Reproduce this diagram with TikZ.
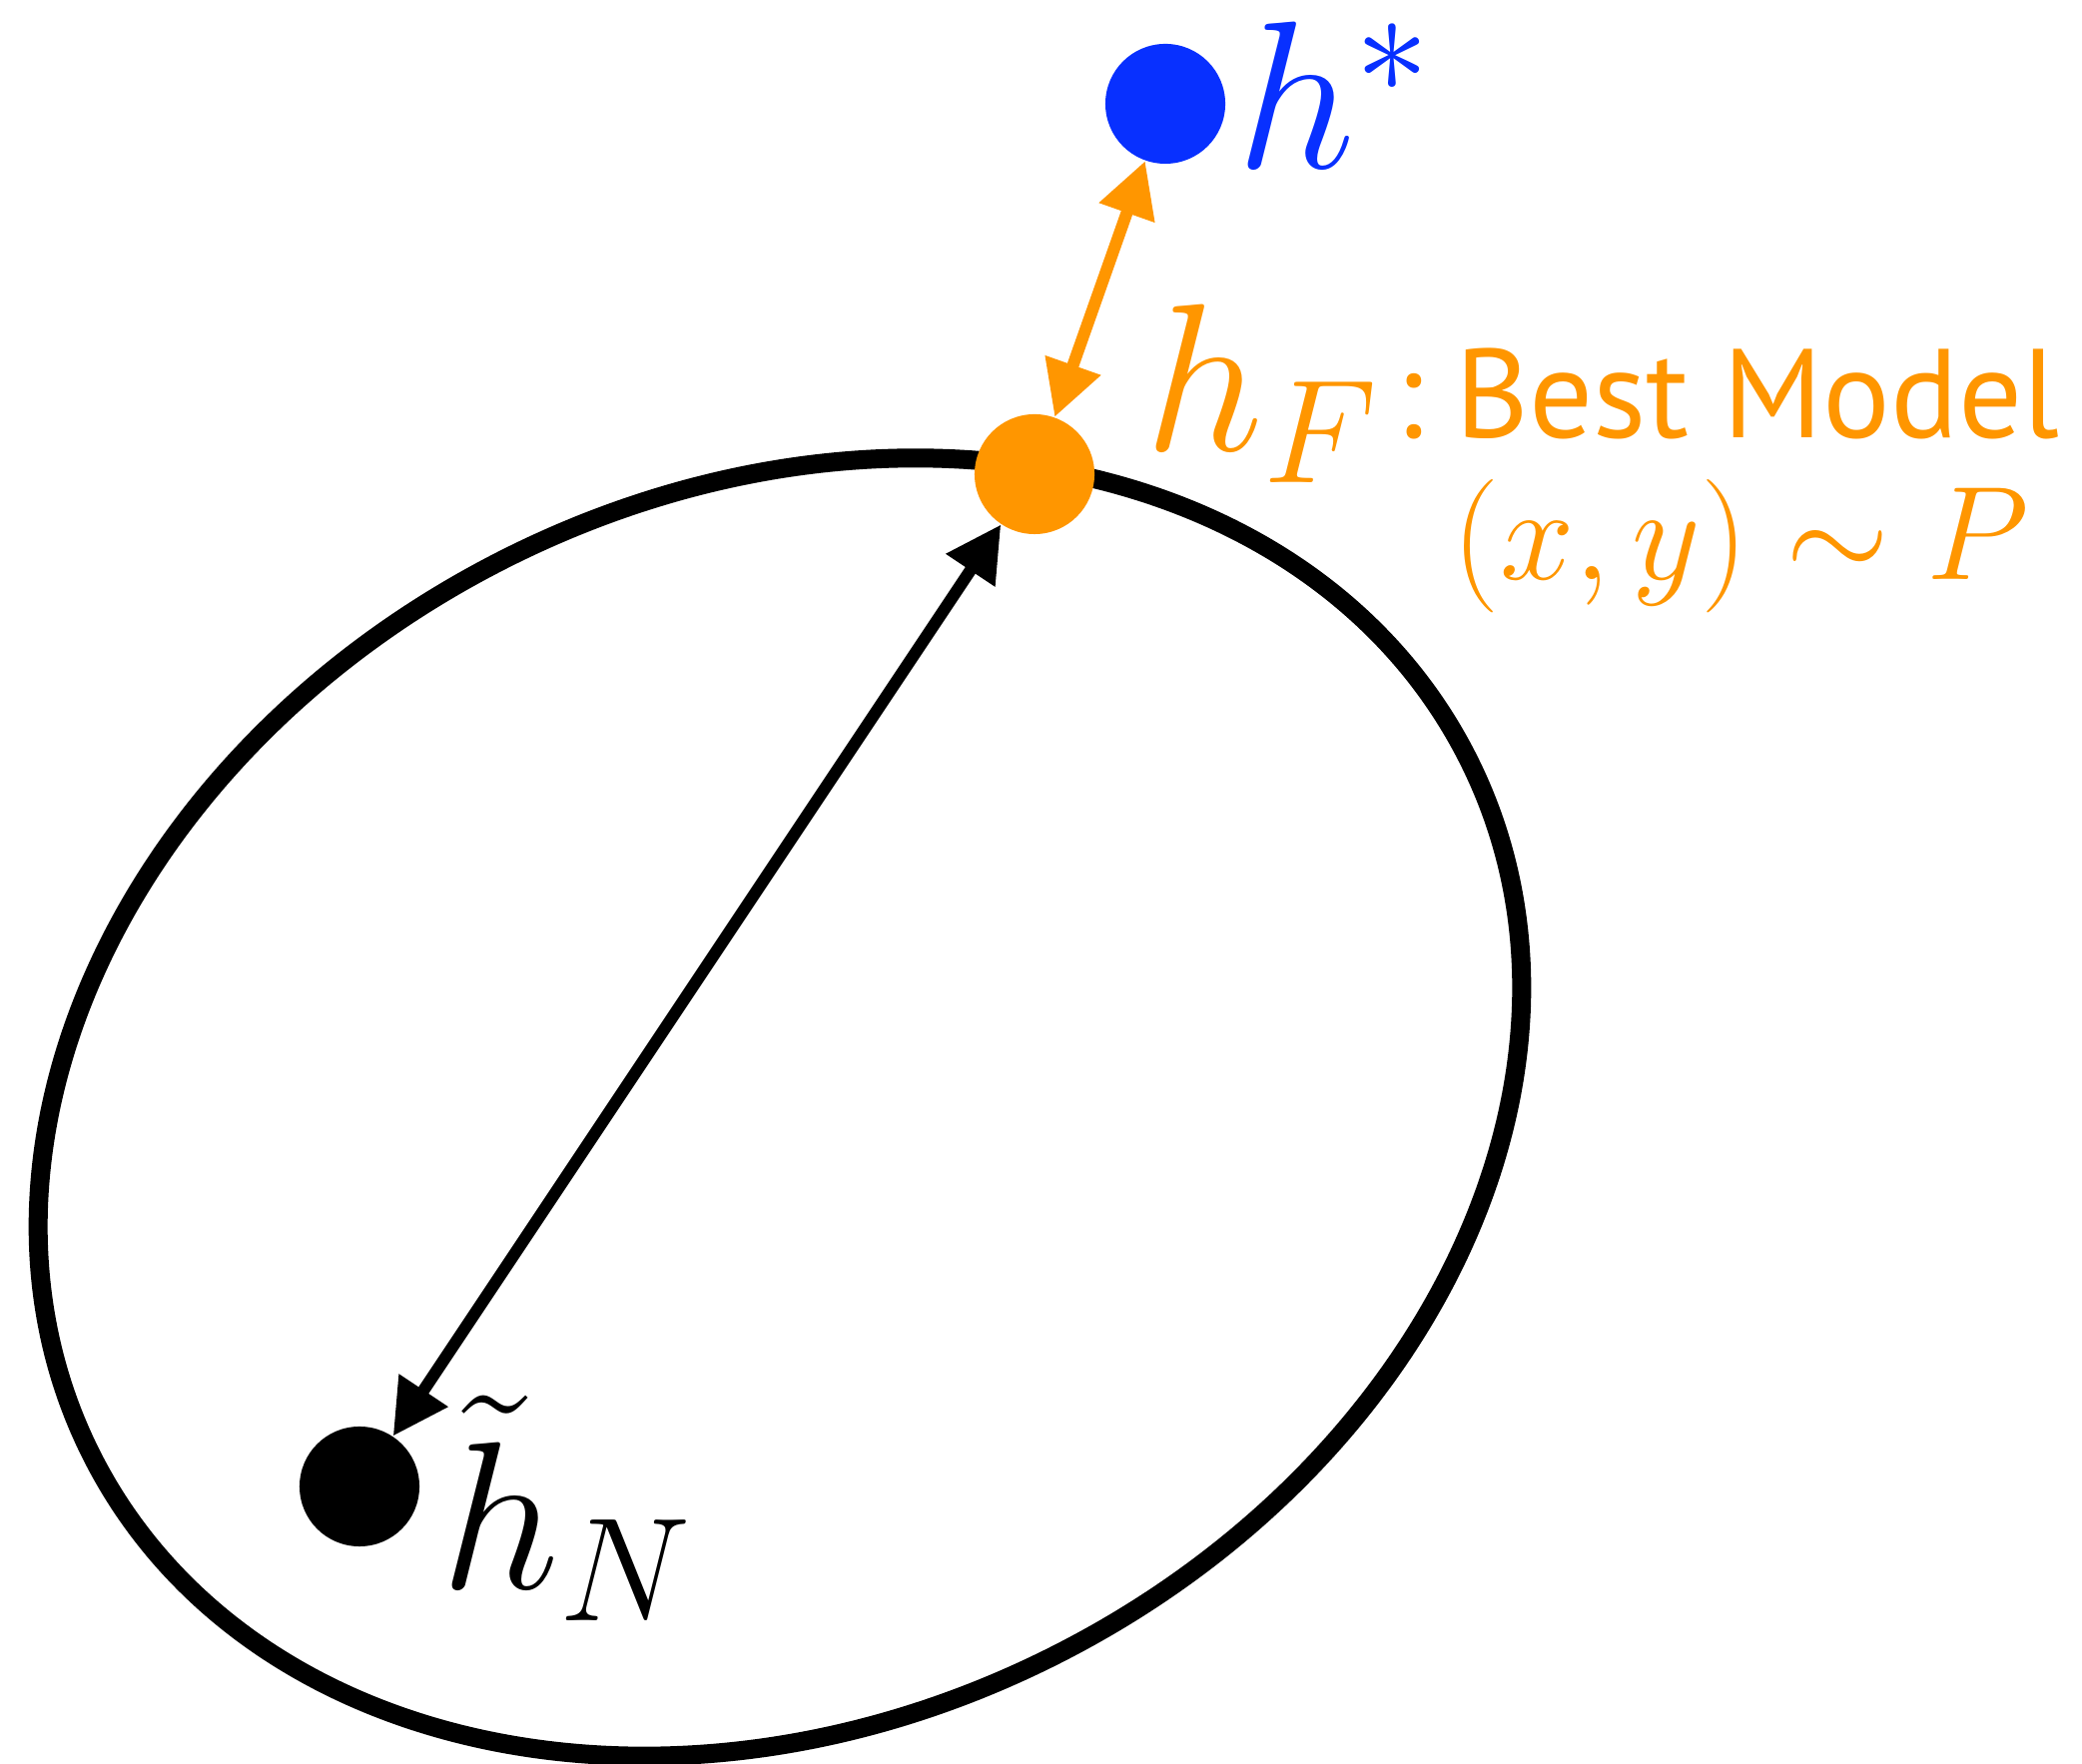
\documentclass[tikz,border=0pt]{standalone}
\usepackage{fix-cm}
\usepackage{fontspec}
\newfontfamily\modelfont{PT Sans}
\usetikzlibrary{arrows.meta,positioning}
\definecolor{bestorange}{RGB}{255,150,0}
\definecolor{trueblue}{RGB}{8,48,255}
\begin{document}
\begin{tikzpicture}[x=0.01cm,y=0.01cm,line join=round,
	dot/.style={circle,minimum size=1.2cm,inner sep=0pt},
	gap/.style={line width=0.12cm,{Triangle[length=0.55cm,width=0.56cm]}-{Triangle[length=0.55cm,width=0.56cm]}},
	lbl/.style={anchor=base west,inner sep=0pt,font=\fontsize{60}{72}\selectfont}]
	\useasboundingbox (0,0) rectangle (2085,1767);
	\draw[line width=0.19cm,rotate around={27:(781,658)}] (781,658) ellipse (7.72cm and 6.14cm);
	\node[dot,fill=trueblue] (hstar) at (1167,1663) {};
	\node[dot,fill=bestorange] (hF) at (1036,1292) {};
	\node[dot,fill=black] (hN) at (360,278) {};
	\draw[gap,bestorange] (hstar) -- (hF);
	\draw[gap] (hF) -- (hN);
	\node[lbl,trueblue] (hstarlbl) at (1238,1598) {$h^*$};
	\node[lbl,bestorange] (hFlbl) at (1146,1315) {$h_F$};
	\node[lbl,bestorange,font=\fontsize{36}{44}\modelfont] (modellbl) at (1397,1328) {:\kern0.25em Best Model};
	\node[lbl,bestorange,font=\fontsize{38}{46}\selectfont] (distlbl) at (1454,1186) {$(x,y)\sim P$};
	\node[lbl] (hNlbl) at (441,175) {$\tilde{h}_N$};
\end{tikzpicture}
\end{document}
